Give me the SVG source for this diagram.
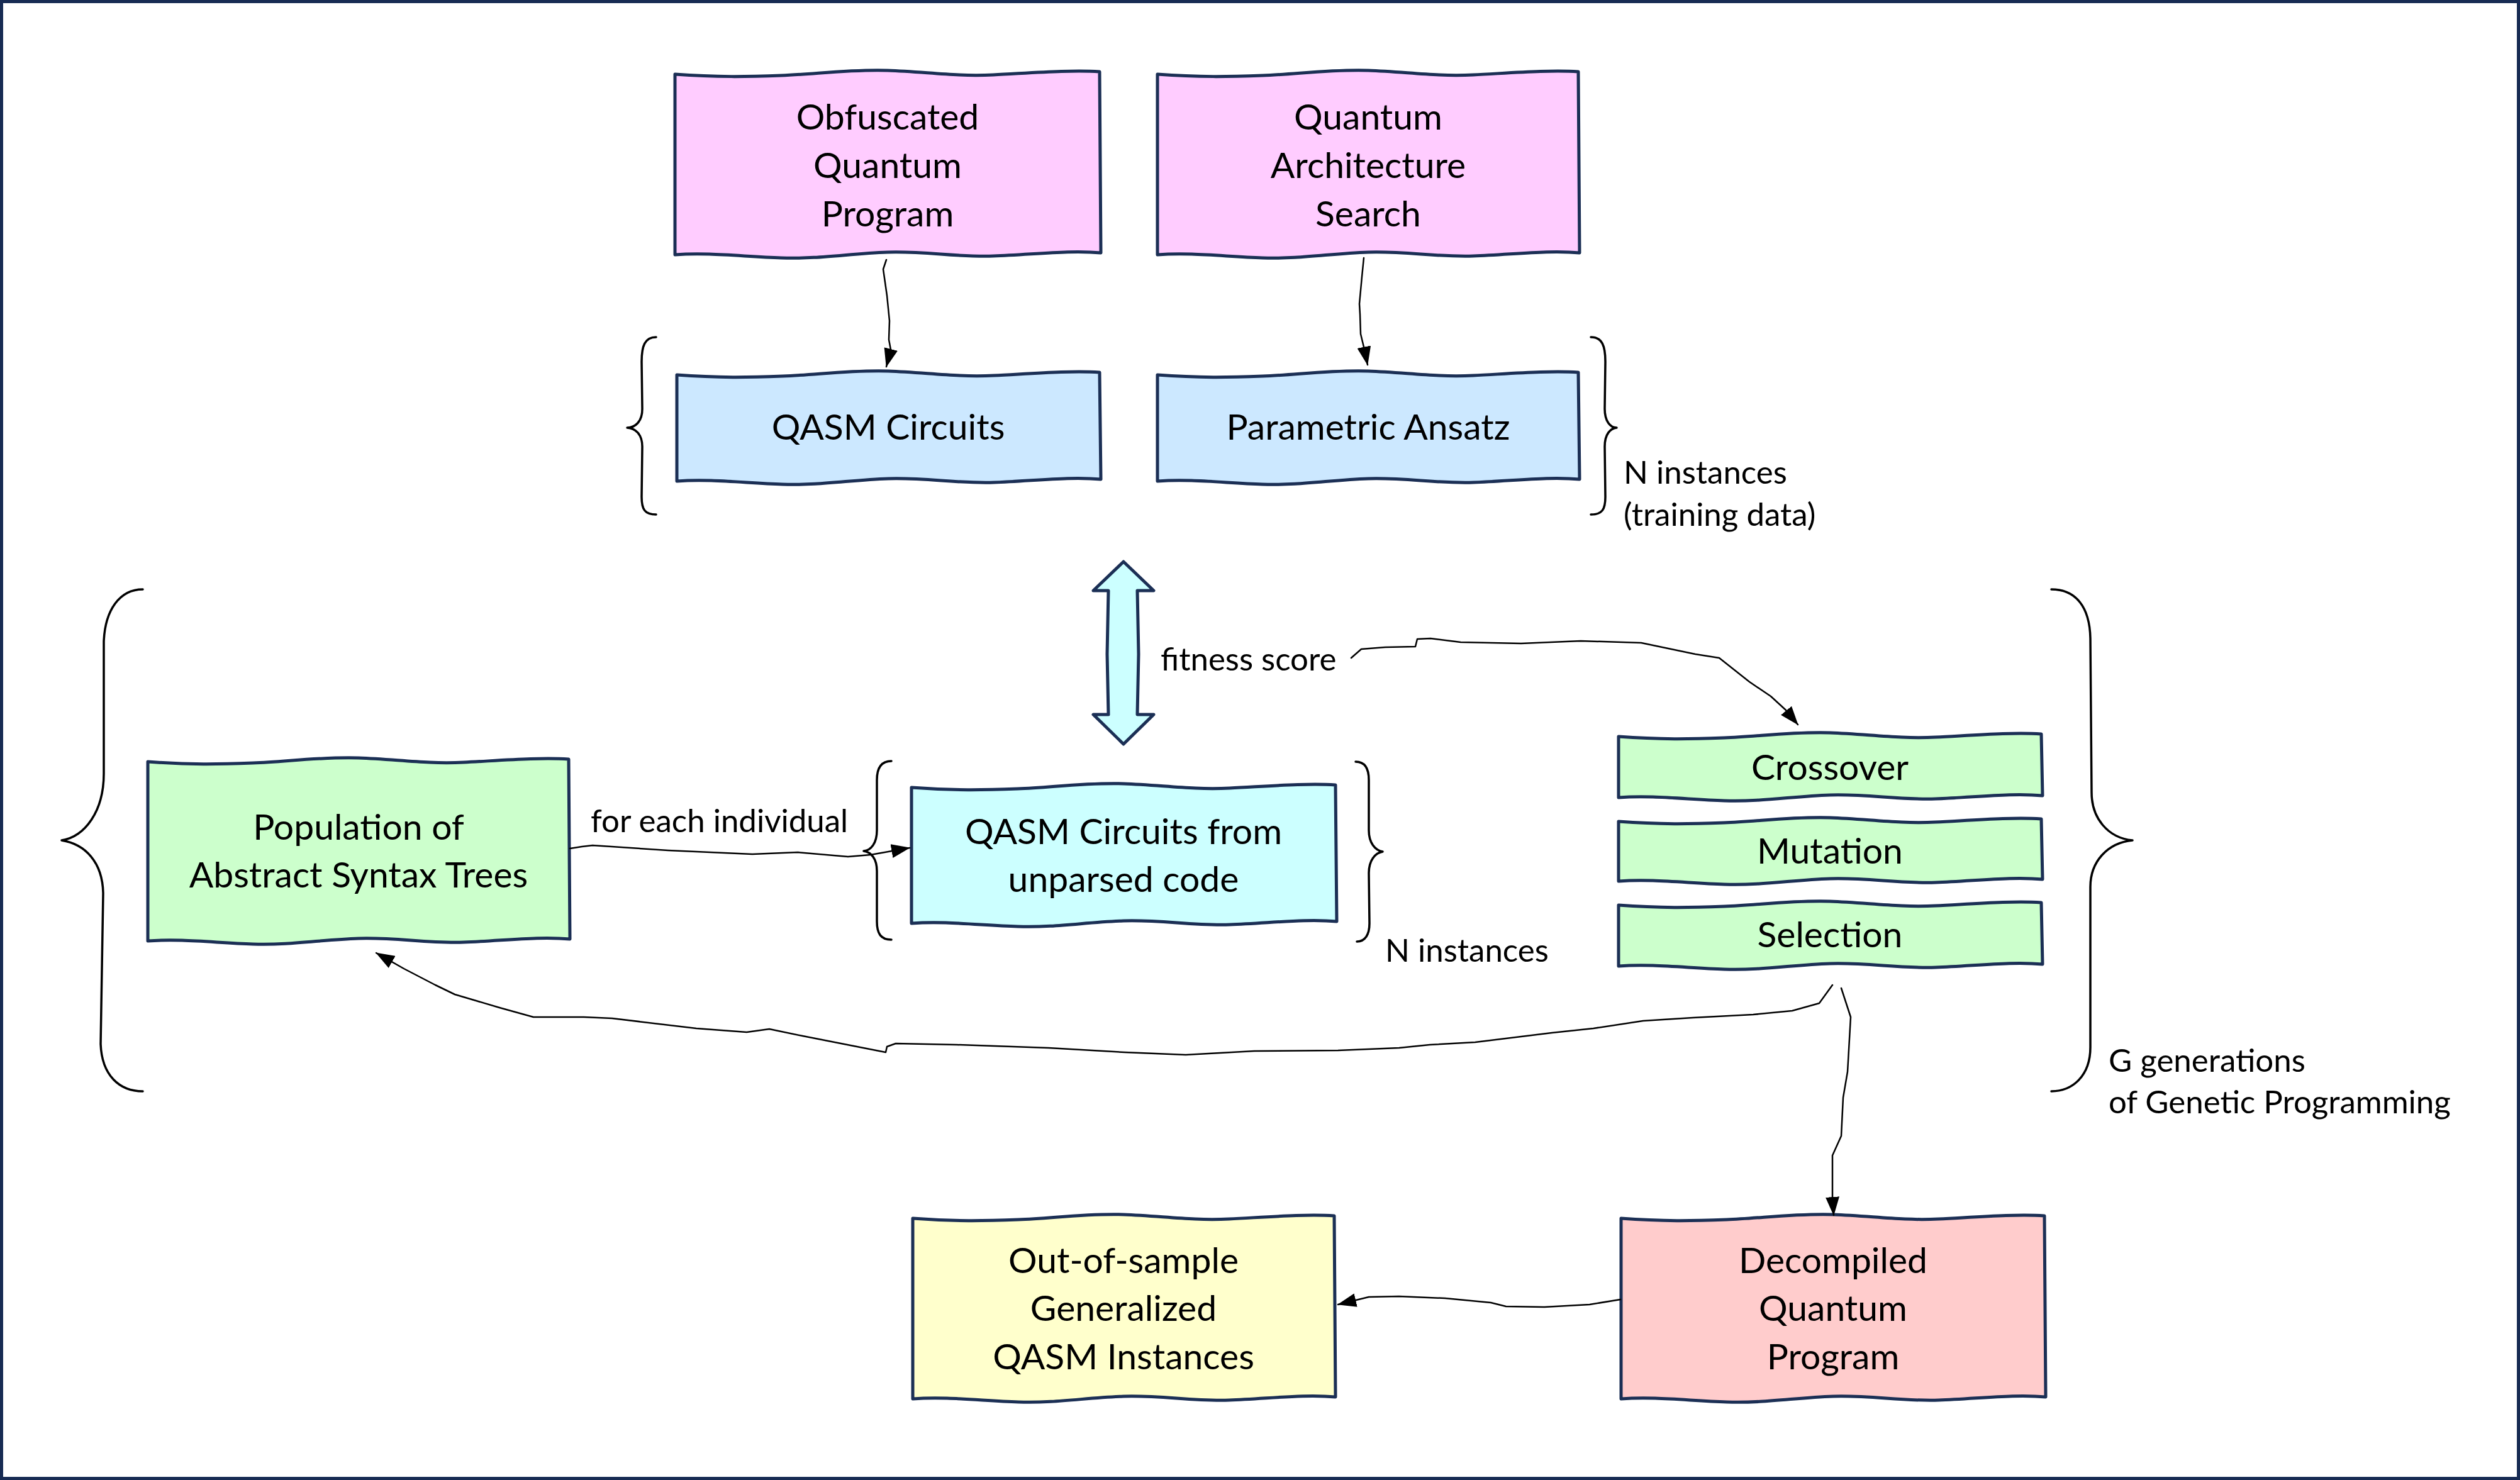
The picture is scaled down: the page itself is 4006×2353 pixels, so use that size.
<svg xmlns="http://www.w3.org/2000/svg" width="4006" height="2353" viewBox="0 0 4006 2353">
<defs>
<style>
.box{stroke:#1B2F55;stroke-width:5;stroke-linejoin:round}
.t{font-family:Lato,"Open Sans","Liberation Sans",sans-serif;font-size:57px;fill:#000;text-anchor:middle}
.lbl{font-family:Lato,"Open Sans","Liberation Sans",sans-serif;font-size:51px;fill:#000}
.br{fill:none;stroke:#000;stroke-width:3.5;stroke-linecap:round;stroke-linejoin:round}
.con{fill:none;stroke:#000;stroke-width:2.5;stroke-linecap:round;stroke-linejoin:round;marker-end:url(#ah)}
</style>
<marker id="ah" markerUnits="userSpaceOnUse" markerWidth="30" markerHeight="22" viewBox="0 0 30 22" refX="29" refY="11" orient="auto">
<path d="M0,0 L30,11 L0,22 Z" fill="#000"/>
</marker>
</defs>
<rect x="0" y="0" width="4006" height="2353" fill="#fff"/>
<rect x="2.5" y="2.5" width="4001" height="2348" fill="none" stroke="#172B53" stroke-width="5"/>

<g id="n-obfuscated">
<path class="box" fill="#FFCCFF" d="M1073,118 C1141,123 1188,122 1242,120 S1350,110 1411,112 S1518,122 1579,119 S1701,111 1748,114 L1750,402 C1701,397 1640,405 1579,407 S1472,399 1411,401 S1303,412 1242,410 S1127,401 1073,405 Z"/>
<text class="t" x="1411" y="206">Obfuscated</text>
<text class="t" x="1411" y="283">Quantum</text>
<text class="t" x="1411" y="360">Program</text>
</g>
<g id="n-qas">
<path class="box" fill="#FFCCFF" d="M1840,118 C1907,123 1953,122 2007,120 S2115,110 2175,112 S2282,122 2342,119 S2462,111 2509,114 L2511,402 C2462,397 2402,405 2342,407 S2235,399 2175,401 S2067,412 2007,410 S1894,401 1840,405 Z"/>
<text class="t" x="2175" y="206">Quantum</text>
<text class="t" x="2175" y="283">Architecture</text>
<text class="t" x="2175" y="360">Search</text>
</g>
<g id="n-qasm">
<path class="box" fill="#CCE8FF" d="M1076,596 C1143,601 1190,600 1244,598 S1352,588 1412,590 S1520,600 1580,597 S1701,589 1748,592 L1750,762 C1701,757 1640,765 1580,767 S1472,759 1412,761 S1304,772 1244,770 S1130,761 1076,765 Z"/>
<text class="t" x="1412" y="699">QASM Circuits</text>
</g>
<g id="n-ansatz">
<path class="box" fill="#CCE8FF" d="M1840,596 C1907,601 1953,600 2007,598 S2115,588 2175,590 S2282,600 2342,597 S2462,589 2509,592 L2511,762 C2462,757 2402,765 2342,767 S2235,759 2175,761 S2067,772 2007,770 S1894,761 1840,765 Z"/>
<text class="t" x="2175" y="699">Parametric Ansatz</text>
</g>
<g id="n-population">
<path class="box" fill="#CCFFCC" d="M235,1211 C302,1216 348,1215 402,1213 S510,1203 570,1205 S677,1215 737,1212 S857,1204 904,1207 L906,1493 C857,1488 797,1496 737,1498 S630,1490 570,1492 S462,1503 402,1501 S289,1492 235,1496 Z"/>
<text class="t" x="570" y="1335">Population of</text>
<text class="t" x="570" y="1411">Abstract Syntax Trees</text>
</g>
<g id="n-unparsed">
<path class="box" fill="#CCFFFF" d="M1449,1252 C1516,1257 1564,1256 1618,1254 S1725,1244 1786,1246 S1894,1256 1955,1253 S2076,1245 2123,1248 L2125,1465 C2076,1460 2016,1468 1955,1470 S1847,1462 1786,1464 S1679,1475 1618,1473 S1503,1464 1449,1468 Z"/>
<text class="t" x="1786" y="1342">QASM Circuits from</text>
<text class="t" x="1786" y="1418">unparsed code</text>
</g>
<g id="n-crossover">
<path class="box" fill="#CCFFCC" d="M2573,1171 C2640,1176 2687,1175 2741,1173 S2849,1163 2909,1165 S3017,1175 3077,1172 S3198,1164 3245,1167 L3247,1265 C3198,1260 3137,1268 3077,1270 S2969,1262 2909,1264 S2801,1275 2741,1273 S2627,1264 2573,1268 Z"/>
<text class="t" x="2909" y="1240">Crossover</text>
</g>
<g id="n-mutation">
<path class="box" fill="#CCFFCC" d="M2573,1306 C2640,1311 2687,1310 2741,1308 S2849,1298 2909,1300 S3017,1310 3077,1307 S3198,1299 3245,1302 L3247,1398 C3198,1393 3137,1401 3077,1403 S2969,1395 2909,1397 S2801,1408 2741,1406 S2627,1397 2573,1401 Z"/>
<text class="t" x="2909" y="1373">Mutation</text>
</g>
<g id="n-selection">
<path class="box" fill="#CCFFCC" d="M2573,1439 C2640,1444 2687,1443 2741,1441 S2849,1431 2909,1433 S3017,1443 3077,1440 S3198,1432 3245,1435 L3247,1533 C3198,1528 3137,1536 3077,1538 S2969,1530 2909,1532 S2801,1543 2741,1541 S2627,1532 2573,1536 Z"/>
<text class="t" x="2909" y="1506">Selection</text>
</g>
<g id="n-outofsample">
<path class="box" fill="#FFFFCC" d="M1451,1937 C1518,1942 1565,1941 1619,1939 S1726,1929 1786,1931 S1894,1941 1954,1938 S2074,1930 2121,1933 L2123,2221 C2074,2216 2014,2224 1954,2226 S1846,2218 1786,2220 S1679,2231 1619,2229 S1505,2220 1451,2224 Z"/>
<text class="t" x="1786" y="2024">Out-of-sample</text>
<text class="t" x="1786" y="2100">Generalized</text>
<text class="t" x="1786" y="2177">QASM Instances</text>
</g>
<g id="n-decompiled">
<path class="box" fill="#FFCCCC" d="M2577,1937 C2644,1942 2691,1941 2745,1939 S2853,1929 2914,1931 S3022,1941 3082,1938 S3203,1930 3250,1933 L3252,2221 C3203,2216 3142,2224 3082,2226 S2974,2218 2914,2220 S2806,2231 2745,2229 S2631,2220 2577,2224 Z"/>
<text class="t" x="2914" y="2024">Decompiled</text>
<text class="t" x="2914" y="2100">Quantum</text>
<text class="t" x="2914" y="2177">Program</text>
</g>

<g id="double-arrow">
<path class="box" fill="#CCFFFF" d="M1786,893 L1834,939 L1808,939 L1810,1040 L1808,1136 L1834,1136 L1786,1183 L1738,1136 L1762,1136 L1760,1040 L1762,939 L1738,939 Z"/>
</g>

<g id="braces">
<path class="br" d="M1043,536 C1025,536 1020,550 1020,575 L1021,650 C1021,670 1010,680 997,680 C1010,681 1021,690 1021,710 L1020,790 C1020,810 1025,818 1043,818"/>
<path class="br" d="M2529,536 C2547,536 2552,550 2552,575 L2551,650 C2551,670 2560,680 2570,680 C2560,681 2551,690 2551,710 L2552,790 C2552,810 2547,818 2529,818"/>
<path class="br" d="M227,937 C190,937 167,970 165,1020 L165,1230 C165,1290 135,1330 98,1336 C135,1342 163,1370 164,1420 L160,1660 C162,1710 190,1735 227,1735"/>
<path class="br" d="M3261,937 C3300,937 3322,965 3323,1015 L3325,1260 C3325,1300 3350,1332 3390,1336 C3350,1340 3323,1370 3323,1410 L3323,1665 C3323,1710 3295,1735 3261,1735"/>
<path class="br" d="M1417,1210 C1400,1210 1394,1222 1394,1240 L1394,1320 C1394,1340 1385,1352 1373,1353 C1385,1355 1394,1365 1394,1385 L1394,1465 C1394,1484 1400,1494 1417,1494"/>
<path class="br" d="M2155,1211 C2170,1211 2176,1222 2176,1240 L2176,1320 C2176,1340 2186,1352 2198,1354 C2186,1356 2176,1368 2176,1388 L2177,1468 C2177,1486 2170,1497 2157,1497"/>
</g>

<g id="connectors">
<path class="con" d="M1409,413 L1404,428 L1410,470 L1414,510 L1413,540 L1416,556 L1409,583"/>
<path class="con" d="M2168,410 L2165,440 L2161,483 L2162,500 L2163,531 L2170,560 L2174,580"/>
<path class="con" d="M906,1349 L925,1346 L942,1344 L1062,1352 L1196,1358 L1268,1355 L1348,1362 L1384,1359 L1446,1348"/>
<path class="con" d="M2148,1046 L2164,1032 L2202,1029 L2250,1028 L2253,1016 L2274,1015 L2322,1021 L2418,1023 L2513,1019 L2609,1022 L2695,1040 L2733,1046 L2781,1084 L2815,1107 L2839,1129 L2858,1152"/>
<path class="con" d="M2913,1566 L2892,1595 L2849,1607 L2787,1613 L2691,1618 L2612,1623 L2533,1635 L2467,1642 L2345,1657 L2273,1661 L2224,1666 L2127,1670 L1994,1671 L1885,1677 L1788,1673 L1667,1666 L1521,1661 L1424,1659 L1410,1664 L1408,1673 L1276,1647 L1223,1636 L1187,1641 L1107,1635 L973,1619 L928,1617 L848,1617 L794,1602 L723,1581 L692,1566 L642,1540 L598,1515"/>
<path class="con" d="M2927,1571 L2942,1617 L2937,1704 L2930,1745 L2927,1806 L2913,1837 L2913,1903 L2915,1932"/>
<path class="con" d="M2576,2066 L2527,2074 L2455,2078 L2394,2077 L2370,2071 L2297,2064 L2224,2061 L2176,2062 L2127,2074"/>
</g>

<g id="labels">
<text class="lbl" x="2581" y="769">N instances</text>
<text class="lbl" x="2581" y="836">(training data)</text>
<text class="lbl" x="1845" y="1066">fitness score</text>
<text class="lbl" x="939" y="1323">for each individual</text>
<text class="lbl" x="2202" y="1529">N instances</text>
<text class="lbl" x="3352" y="1704">G generations</text>
<text class="lbl" x="3352" y="1770">of Genetic Programming</text>
</g>
</svg>
